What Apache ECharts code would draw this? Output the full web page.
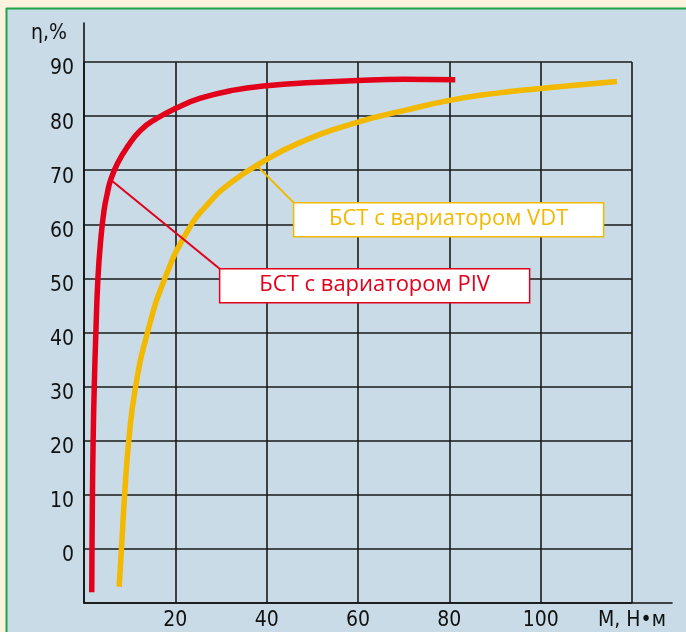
<!DOCTYPE html>
<html><head><meta charset="utf-8">
<script src="https://cdn.jsdelivr.net/npm/echarts/dist/echarts.min.js"></script>
<style>html,body{margin:0;padding:0;background:#fdf3dd}#c{width:686px;height:632px}</style>
</head><body><div id="c"></div>
<script>
// ---- data ----
const xTickLabels = ['', '20', '40', '60', '80', '100', 'М, Н•м'];
const yTickLabels = ['', '0', '10', '20', '30', '40', '50', '60', '70', '80', '90'];
const seriesNames = ['БСТ с вариатором PIV', 'БСТ с вариатором VDT'];
const pivData = [[1.7,-8],[1.75,0],[1.85,10],[2.0,20],[2.25,30],[2.6,40],[3.05,50],[3.65,57],[4.4,62.6],[5.1,65.7],[5.8,68.1],[7.3,71.2],[9.5,74.3],[12.4,77.4],[16,79.6],[20,81.4],[25.5,83.3],[32.8,84.8],[40,85.6],[50,86.2],[60,86.6],[70,86.8],[81.3,86.7]];
const vdtData = [[7.7,-7],[8.2,0],[8.9,10],[9.8,20],[11.3,30],[13.9,40],[17.7,50],[22.7,58.8],[27.5,64.1],[32,67.6],[38,71.0],[47,75],[60,78.9],[70,81],[80,82.9],[90,84.2],[100,85.1],[110,85.9],[116.7,86.4]];
// annotation: [anchor on curve], [box top-left corner]
const pivAnchor = [5.9, 68.2], pivCorner = [29.7, 51.8];
const vdtAnchor = [37.8, 70.9], vdtCorner = [45.9, 64.0];

const RED = '#e3001b', YEL = '#f3b800';
const axisFont = '"Liberation Sans Narrow","DejaVu Sans Condensed","Liberation Sans",sans-serif';
const chart = echarts.init(document.getElementById('c'));
const option = {
  backgroundColor: '#c8dbe6',
  animation: false,
  grid: [
    {left: 84, top: 62, width: 548, height: 541},
    {left: 84, top: 23, width: 588, height: 580}
  ],
  xAxis: [
    {gridIndex: 0, type: 'value', min: 0, max: 120, interval: 20,
     axisLine: {show: false}, axisTick: {show: false},
     splitLine: {show: true, lineStyle: {color: '#1a1a1a', width: 1.6}},
     axisLabel: {margin: 7, fontFamily: axisFont, fontSize: 21, color: '#111',
       formatter: (v) => xTickLabels[Math.round(v / 20)]}},
    {gridIndex: 1, type: 'value', min: 0, max: 1,
     axisLine: {show: true, lineStyle: {color: '#111', width: 1.6}},
     axisTick: {show: false}, axisLabel: {show: false}, splitLine: {show: false}}
  ],
  yAxis: [
    {gridIndex: 0, type: 'value', min: -10, max: 90, interval: 10,
     axisLine: {show: false}, axisTick: {show: false},
     splitLine: {show: true, lineStyle: {color: '#1a1a1a', width: 1.6}},
     axisLabel: {margin: 10, fontFamily: axisFont, fontSize: 21, color: '#111',
       verticalAlign: 'top', lineHeight: 14,
       formatter: (v) => yTickLabels[Math.round((v + 10) / 10)]},
     name: 'η,%', nameLocation: 'end', nameGap: 18,
     nameTextStyle: {fontFamily: axisFont, fontSize: 21, color: '#111', align: 'right', padding: [0, 17, 0, 0]}},
    {gridIndex: 1, type: 'value', min: 0, max: 1,
     axisLine: {show: true, lineStyle: {color: '#111', width: 1.6}},
     axisTick: {show: false}, axisLabel: {show: false}, splitLine: {show: false}}
  ],
  series: [
    {name: seriesNames[0], type: 'line', xAxisIndex: 0, yAxisIndex: 0, data: pivData,
     smooth: 0.5, showSymbol: false, lineStyle: {color: RED, width: 5.5, cap: 'butt'}, z: 5},
    {name: seriesNames[1], type: 'line', xAxisIndex: 0, yAxisIndex: 0, data: vdtData,
     smooth: 0.5, showSymbol: false, lineStyle: {color: YEL, width: 5.5, cap: 'butt'}, z: 4},
    {type: 'line', xAxisIndex: 0, yAxisIndex: 0, data: [pivAnchor, pivCorner],
     showSymbol: false, lineStyle: {color: RED, width: 2}, z: 6, silent: true},
    {type: 'line', xAxisIndex: 0, yAxisIndex: 0, data: [vdtAnchor, vdtCorner],
     showSymbol: false, lineStyle: {color: YEL, width: 2}, z: 6, silent: true}
  ]
};
chart.setOption(option);

function box(corner, text, color) {
  const p = chart.convertToPixel({gridIndex: 0}, corner);
  const w = 310, h = 34;
  return [
    {type: 'rect', z: 100, shape: {x: p[0], y: p[1], width: w, height: h},
     style: {fill: '#ffffff', stroke: color, lineWidth: 1.5}},
    {type: 'text', z: 101, x: p[0] + w / 2, y: p[1] + h / 2 - 1,
     style: {text: text, fill: color, font: '22px "Open Sans", "Noto Sans", sans-serif',
       textAlign: 'center', textVerticalAlign: 'middle'}}
  ];
}
const graphics = [
  {type: 'rect', z: 0, shape: {x: 0, y: 0, width: 686, height: 8}, style: {fill: '#fdf3dd'}},
  {type: 'rect', z: 0, shape: {x: 0, y: 0, width: 6, height: 632}, style: {fill: '#fdf3dd'}},
  {type: 'line', z: 1, shape: {x1: 6, y1: 8.5, x2: 686, y2: 8.5}, style: {stroke: '#1fa64a', lineWidth: 2}},
  {type: 'line', z: 1, shape: {x1: 6.5, y1: 8, x2: 6.5, y2: 632}, style: {stroke: '#1fa64a', lineWidth: 2}}
].concat(box(vdtCorner, seriesNames[1], YEL), box(pivCorner, seriesNames[0], RED));
chart.setOption({graphic: graphics});
</script></body></html>
